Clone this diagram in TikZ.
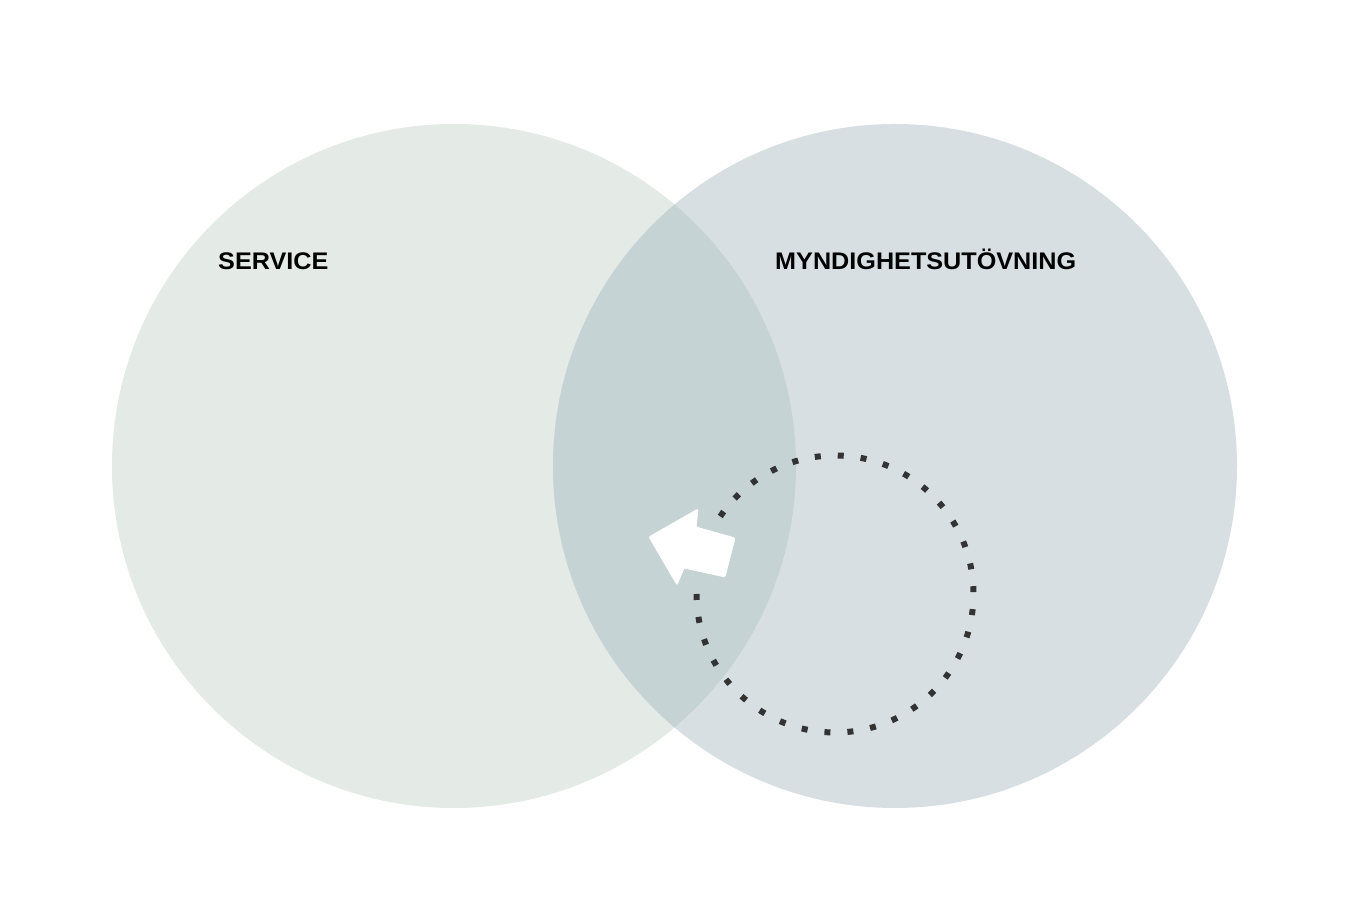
\documentclass[tikz,border=0pt]{standalone}
\usepackage{fontspec}
\setmainfont{Liberation Sans}
\definecolor{leftc}{RGB}{228,234,230}
\definecolor{rightc}{RGB}{216,223,226}
\definecolor{overc}{RGB}{198,211,212}
\definecolor{dotc}{RGB}{51,51,51}
\tikzset{
  label/.style={inner sep=0pt, anchor=base west, font=\fontsize{24}{24}\selectfont\bfseries, text=black},
  dotring/.style={draw=dotc, line width=6pt, line cap=butt, dash pattern=on 6pt off 17pt},
  bigarrow/.style={fill=white, draw=white, line width=0.8pt, rounded corners=1.2pt}
}
\begin{document}
\begin{tikzpicture}[x=1pt,y=1pt]
\useasboundingbox (0,0) rectangle (1368,917);
\fill[white] (0,0) rectangle (1368,917);
% circles
\coordinate (L) at (454,451);
\coordinate (R) at (895,451);
\fill[leftc] (L) circle[radius=342];
\fill[rightc] (R) circle[radius=342];
\begin{scope}
  \clip (L) circle[radius=342];
  \fill[overc] (R) circle[radius=342];
\end{scope}
% labels
\node[label] (service) at (218,647) {\scalebox{1.05}[1]{SERVICE}};
\node[label] (myn) at (775,647) {\scalebox{1.05}[1]{MYNDIGHETSUTÖVNING}};
% dotted ring
\coordinate (C) at (835,323);
\draw[dotring] ([shift={(180:138.5)}]C) arc[start angle=180, end angle=510, radius=138.5];
% arrow
\coordinate (tip) at (649,380);
\coordinate (hu) at (698,408);
\coordinate (su) at (696,390);
\coordinate (tu) at (735,379);
\coordinate (tl) at (725,340);
\coordinate (sl) at (684,349);
\coordinate (hl) at (677,332);
\filldraw[bigarrow] (tip) -- (hu) -- (su) -- (tu) -- (tl) -- (sl) -- (hl) -- cycle;
\end{tikzpicture}
\end{document}
